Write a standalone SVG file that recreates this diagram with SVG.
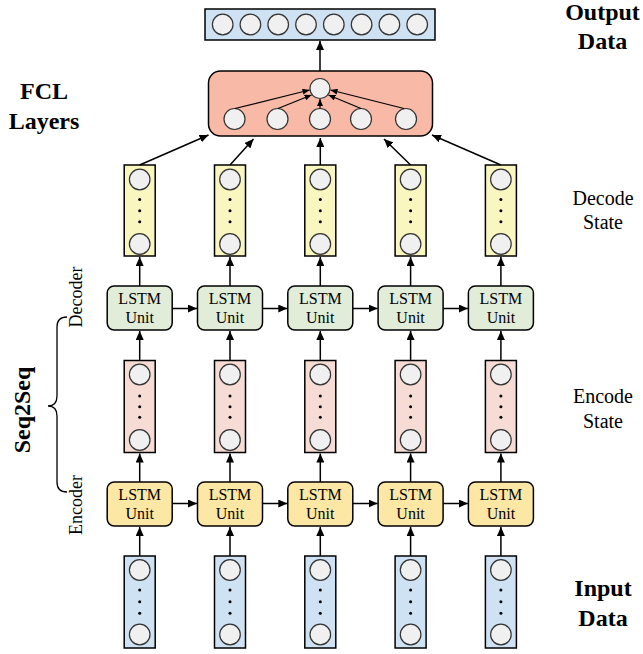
<svg xmlns="http://www.w3.org/2000/svg" width="643" height="654" viewBox="0 0 643 654">
<defs>
<marker id="ah" markerUnits="userSpaceOnUse" markerWidth="10" markerHeight="8" refX="9" refY="4" orient="auto"><path d="M0,0 L9,4 L0,8 Z" fill="#000"/></marker>
<marker id="ahs" markerUnits="userSpaceOnUse" markerWidth="8" markerHeight="6" refX="7" refY="3" orient="auto"><path d="M0,0 L7,3 L0,6 Z" fill="#000"/></marker>
</defs>
<style>
.c{fill:#f0f0f0;stroke:#333;stroke-width:1.2}
.st{stroke:#000;stroke-width:1.5}
.in{fill:#cfe2f3}
.dec{fill:#faf6bf}
.enc{fill:#f6dcd4}
.ld{fill:#e2edd9;stroke:#000;stroke-width:1.5}
.le{fill:#fde7a5;stroke:#000;stroke-width:1.5}
.dot{fill:#000}
.a{stroke:#000;stroke-width:1.5;fill:none;marker-end:url(#ah)}
.as{stroke:#000;stroke-width:1.2;fill:none;marker-end:url(#ahs)}
</style>

<g id="output">
<rect x="205" y="9" width="230" height="31" class="in st"/>
<circle class="c" cx="222.7" cy="24.5" r="10.3"/>
<circle class="c" cx="250.4" cy="24.5" r="10.3"/>
<circle class="c" cx="278.2" cy="24.5" r="10.3"/>
<circle class="c" cx="306" cy="24.5" r="10.3"/>
<circle class="c" cx="333.8" cy="24.5" r="10.3"/>
<circle class="c" cx="361.6" cy="24.5" r="10.3"/>
<circle class="c" cx="389.4" cy="24.5" r="10.3"/>
<circle class="c" cx="417.2" cy="24.5" r="10.3"/>
</g>

<g id="fcl">
<rect x="208.5" y="71" width="224" height="65" rx="12" fill="#f8b9a6" class="st"/>
<circle class="c" cx="320" cy="88.5" r="10"/>
<circle class="c" cx="234.5" cy="119" r="10.5"/>
<circle class="c" cx="277.5" cy="119" r="10.5"/>
<circle class="c" cx="320" cy="119" r="10.5"/>
<circle class="c" cx="361" cy="119" r="10.5"/>
<circle class="c" cx="406" cy="119" r="10.5"/>
</g>

<g id="labels" font-family="Liberation Serif, Times New Roman, serif" fill="#000">
<g font-weight="bold" font-size="24" text-anchor="middle">
<text x="602.5" y="19.5">Output</text>
<text x="602.5" y="48.5">Data</text>
<text x="44" y="99">FCL</text>
<text x="44" y="129">Layers</text>
<text x="603" y="596">Input</text>
<text x="603" y="625.5">Data</text>
<text transform="translate(30,410) rotate(-90)">Seq2Seq</text>
</g>
<g font-size="20" text-anchor="middle">
<text x="603" y="205">Decode</text>
<text x="603" y="229">State</text>
<text x="603" y="403">Encode</text>
<text x="603" y="428">State</text>
</g>
<text font-size="18" transform="translate(81.5,297) rotate(-90)" text-anchor="middle">Decoder</text>
<text font-size="18" transform="translate(81.5,505) rotate(-90)" text-anchor="middle">Encoder</text>
<path d="M67,317 Q57,317 57,327 L57,396 Q57,406 48,406 Q57,406 57,416 L57,482 Q57,492 67,492" fill="none" stroke="#000" stroke-width="1.3"/>
</g>

<g id="col1">
<rect x="124.2" y="165" width="31" height="91" class="dec st"/>
<circle class="c" cx="139.7" cy="179.5" r="10.3"/><circle class="c" cx="139.7" cy="244" r="10.3"/>
<circle class="dot" cx="139.7" cy="199.5" r="1.5"/><circle class="dot" cx="139.7" cy="210.7" r="1.5"/><circle class="dot" cx="139.7" cy="221.8" r="1.5"/>
<rect x="107.2" y="286" width="65" height="44" rx="7" class="ld"/>
<rect x="124.2" y="360.5" width="31" height="92" class="enc st"/>
<circle class="c" cx="139.7" cy="374.5" r="10.3"/><circle class="c" cx="139.7" cy="440" r="10.3"/>
<circle class="dot" cx="139.7" cy="396" r="1.5"/><circle class="dot" cx="139.7" cy="406.7" r="1.5"/><circle class="dot" cx="139.7" cy="417.3" r="1.5"/>
<rect x="107.2" y="482" width="65" height="44" rx="7" class="le"/>
<rect x="124.2" y="556" width="31" height="92" class="in st"/>
<circle class="c" cx="139.7" cy="570" r="10.3"/><circle class="c" cx="139.7" cy="634.5" r="10.3"/>
<circle class="dot" cx="139.7" cy="590" r="1.5"/><circle class="dot" cx="139.7" cy="601.7" r="1.5"/><circle class="dot" cx="139.7" cy="613.3" r="1.5"/>
<g font-family="Liberation Serif, Times New Roman, serif" font-size="16" text-anchor="middle" fill="#000">
<text x="139.7" y="304">LSTM</text><text x="139.7" y="323">Unit</text>
<text x="139.7" y="500">LSTM</text><text x="139.7" y="519">Unit</text>
</g>
</g>

<g id="col2">
<rect x="214.5" y="165" width="31" height="91" class="dec st"/>
<circle class="c" cx="230" cy="179.5" r="10.3"/><circle class="c" cx="230" cy="244" r="10.3"/>
<circle class="dot" cx="230" cy="199.5" r="1.5"/><circle class="dot" cx="230" cy="210.7" r="1.5"/><circle class="dot" cx="230" cy="221.8" r="1.5"/>
<rect x="197.5" y="286" width="65" height="44" rx="7" class="ld"/>
<rect x="214.5" y="360.5" width="31" height="92" class="enc st"/>
<circle class="c" cx="230" cy="374.5" r="10.3"/><circle class="c" cx="230" cy="440" r="10.3"/>
<circle class="dot" cx="230" cy="396" r="1.5"/><circle class="dot" cx="230" cy="406.7" r="1.5"/><circle class="dot" cx="230" cy="417.3" r="1.5"/>
<rect x="197.5" y="482" width="65" height="44" rx="7" class="le"/>
<rect x="214.5" y="556" width="31" height="92" class="in st"/>
<circle class="c" cx="230" cy="570" r="10.3"/><circle class="c" cx="230" cy="634.5" r="10.3"/>
<circle class="dot" cx="230" cy="590" r="1.5"/><circle class="dot" cx="230" cy="601.7" r="1.5"/><circle class="dot" cx="230" cy="613.3" r="1.5"/>
<g font-family="Liberation Serif, Times New Roman, serif" font-size="16" text-anchor="middle" fill="#000">
<text x="230" y="304">LSTM</text><text x="230" y="323">Unit</text>
<text x="230" y="500">LSTM</text><text x="230" y="519">Unit</text>
</g>
</g>

<g id="col3">
<rect x="304.8" y="165" width="31" height="91" class="dec st"/>
<circle class="c" cx="320.3" cy="179.5" r="10.3"/><circle class="c" cx="320.3" cy="244" r="10.3"/>
<circle class="dot" cx="320.3" cy="199.5" r="1.5"/><circle class="dot" cx="320.3" cy="210.7" r="1.5"/><circle class="dot" cx="320.3" cy="221.8" r="1.5"/>
<rect x="287.8" y="286" width="65" height="44" rx="7" class="ld"/>
<rect x="304.8" y="360.5" width="31" height="92" class="enc st"/>
<circle class="c" cx="320.3" cy="374.5" r="10.3"/><circle class="c" cx="320.3" cy="440" r="10.3"/>
<circle class="dot" cx="320.3" cy="396" r="1.5"/><circle class="dot" cx="320.3" cy="406.7" r="1.5"/><circle class="dot" cx="320.3" cy="417.3" r="1.5"/>
<rect x="287.8" y="482" width="65" height="44" rx="7" class="le"/>
<rect x="304.8" y="556" width="31" height="92" class="in st"/>
<circle class="c" cx="320.3" cy="570" r="10.3"/><circle class="c" cx="320.3" cy="634.5" r="10.3"/>
<circle class="dot" cx="320.3" cy="590" r="1.5"/><circle class="dot" cx="320.3" cy="601.7" r="1.5"/><circle class="dot" cx="320.3" cy="613.3" r="1.5"/>
<g font-family="Liberation Serif, Times New Roman, serif" font-size="16" text-anchor="middle" fill="#000">
<text x="320.3" y="304">LSTM</text><text x="320.3" y="323">Unit</text>
<text x="320.3" y="500">LSTM</text><text x="320.3" y="519">Unit</text>
</g>
</g>

<g id="col4">
<rect x="395.1" y="165" width="31" height="91" class="dec st"/>
<circle class="c" cx="410.6" cy="179.5" r="10.3"/><circle class="c" cx="410.6" cy="244" r="10.3"/>
<circle class="dot" cx="410.6" cy="199.5" r="1.5"/><circle class="dot" cx="410.6" cy="210.7" r="1.5"/><circle class="dot" cx="410.6" cy="221.8" r="1.5"/>
<rect x="378.1" y="286" width="65" height="44" rx="7" class="ld"/>
<rect x="395.1" y="360.5" width="31" height="92" class="enc st"/>
<circle class="c" cx="410.6" cy="374.5" r="10.3"/><circle class="c" cx="410.6" cy="440" r="10.3"/>
<circle class="dot" cx="410.6" cy="396" r="1.5"/><circle class="dot" cx="410.6" cy="406.7" r="1.5"/><circle class="dot" cx="410.6" cy="417.3" r="1.5"/>
<rect x="378.1" y="482" width="65" height="44" rx="7" class="le"/>
<rect x="395.1" y="556" width="31" height="92" class="in st"/>
<circle class="c" cx="410.6" cy="570" r="10.3"/><circle class="c" cx="410.6" cy="634.5" r="10.3"/>
<circle class="dot" cx="410.6" cy="590" r="1.5"/><circle class="dot" cx="410.6" cy="601.7" r="1.5"/><circle class="dot" cx="410.6" cy="613.3" r="1.5"/>
<g font-family="Liberation Serif, Times New Roman, serif" font-size="16" text-anchor="middle" fill="#000">
<text x="410.6" y="304">LSTM</text><text x="410.6" y="323">Unit</text>
<text x="410.6" y="500">LSTM</text><text x="410.6" y="519">Unit</text>
</g>
</g>

<g id="col5">
<rect x="485.4" y="165" width="31" height="91" class="dec st"/>
<circle class="c" cx="500.9" cy="179.5" r="10.3"/><circle class="c" cx="500.9" cy="244" r="10.3"/>
<circle class="dot" cx="500.9" cy="199.5" r="1.5"/><circle class="dot" cx="500.9" cy="210.7" r="1.5"/><circle class="dot" cx="500.9" cy="221.8" r="1.5"/>
<rect x="468.4" y="286" width="65" height="44" rx="7" class="ld"/>
<rect x="485.4" y="360.5" width="31" height="92" class="enc st"/>
<circle class="c" cx="500.9" cy="374.5" r="10.3"/><circle class="c" cx="500.9" cy="440" r="10.3"/>
<circle class="dot" cx="500.9" cy="396" r="1.5"/><circle class="dot" cx="500.9" cy="406.7" r="1.5"/><circle class="dot" cx="500.9" cy="417.3" r="1.5"/>
<rect x="468.4" y="482" width="65" height="44" rx="7" class="le"/>
<rect x="485.4" y="556" width="31" height="92" class="in st"/>
<circle class="c" cx="500.9" cy="570" r="10.3"/><circle class="c" cx="500.9" cy="634.5" r="10.3"/>
<circle class="dot" cx="500.9" cy="590" r="1.5"/><circle class="dot" cx="500.9" cy="601.7" r="1.5"/><circle class="dot" cx="500.9" cy="613.3" r="1.5"/>
<g font-family="Liberation Serif, Times New Roman, serif" font-size="16" text-anchor="middle" fill="#000">
<text x="500.9" y="304">LSTM</text><text x="500.9" y="323">Unit</text>
<text x="500.9" y="500">LSTM</text><text x="500.9" y="519">Unit</text>
</g>
</g>

<g id="connectors">
<line class="a" x1="320" y1="71" x2="320" y2="41"/>
<line class="as" x1="235" y1="108.5" x2="309.5" y2="90"/>
<line class="as" x1="278" y1="108.5" x2="311.5" y2="95"/>
<line class="as" x1="320" y1="108.5" x2="320" y2="99"/>
<line class="as" x1="361" y1="108.5" x2="328.5" y2="95"/>
<line class="as" x1="404" y1="108.5" x2="330.5" y2="90"/>
<line class="a" x1="139.7" y1="165" x2="208.5" y2="135"/>
<line class="a" x1="230" y1="165" x2="253.5" y2="139"/>
<line class="a" x1="320.3" y1="165" x2="320.3" y2="138"/>
<line class="a" x1="410.6" y1="165" x2="384" y2="139"/>
<line class="a" x1="500.9" y1="165" x2="432" y2="135"/>
<line class="a" x1="139.7" y1="286" x2="139.7" y2="257"/>
<line class="a" x1="230" y1="286" x2="230" y2="257"/>
<line class="a" x1="320.3" y1="286" x2="320.3" y2="257"/>
<line class="a" x1="410.6" y1="286" x2="410.6" y2="257"/>
<line class="a" x1="500.9" y1="286" x2="500.9" y2="257"/>
<line class="a" x1="139.7" y1="360.5" x2="139.7" y2="331"/>
<line class="a" x1="230" y1="360.5" x2="230" y2="331"/>
<line class="a" x1="320.3" y1="360.5" x2="320.3" y2="331"/>
<line class="a" x1="410.6" y1="360.5" x2="410.6" y2="331"/>
<line class="a" x1="500.9" y1="360.5" x2="500.9" y2="331"/>
<line class="a" x1="139.7" y1="482" x2="139.7" y2="453.5"/>
<line class="a" x1="230" y1="482" x2="230" y2="453.5"/>
<line class="a" x1="320.3" y1="482" x2="320.3" y2="453.5"/>
<line class="a" x1="410.6" y1="482" x2="410.6" y2="453.5"/>
<line class="a" x1="500.9" y1="482" x2="500.9" y2="453.5"/>
<line class="a" x1="139.7" y1="556" x2="139.7" y2="527"/>
<line class="a" x1="230" y1="556" x2="230" y2="527"/>
<line class="a" x1="320.3" y1="556" x2="320.3" y2="527"/>
<line class="a" x1="410.6" y1="556" x2="410.6" y2="527"/>
<line class="a" x1="500.9" y1="556" x2="500.9" y2="527"/>
<line class="a" x1="172.2" y1="308.5" x2="197" y2="308.5"/>
<line class="a" x1="262.5" y1="308.5" x2="287.3" y2="308.5"/>
<line class="a" x1="352.8" y1="308.5" x2="377.6" y2="308.5"/>
<line class="a" x1="443.1" y1="308.5" x2="467.9" y2="308.5"/>
<line class="a" x1="172.2" y1="503.5" x2="197" y2="503.5"/>
<line class="a" x1="262.5" y1="503.5" x2="287.3" y2="503.5"/>
<line class="a" x1="352.8" y1="503.5" x2="377.6" y2="503.5"/>
<line class="a" x1="443.1" y1="503.5" x2="467.9" y2="503.5"/>
</g>
</svg>
